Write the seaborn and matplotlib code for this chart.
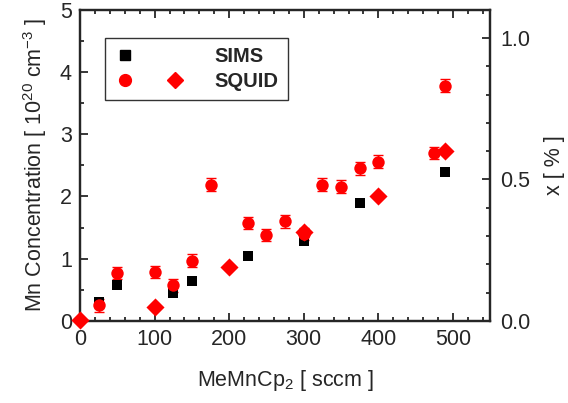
import matplotlib
matplotlib.use("Agg")
import matplotlib.pyplot as plt
import seaborn as sns
import pandas as pd
from matplotlib.lines import Line2D
from matplotlib.legend_handler import HandlerTuple
from matplotlib.ticker import MultipleLocator

# ---- data ----
sims_x = [25, 50, 125, 150, 225, 300, 375, 490]
sims_y = [0.30, 0.58, 0.45, 0.64, 1.04, 1.28, 1.89, 2.39]

squid_x = [25, 50, 100, 125, 150, 175, 225, 250, 275, 300, 325, 350, 375, 400, 475, 490]
squid_y = [0.25, 0.77, 0.79, 0.57, 0.97, 2.19, 1.57, 1.38, 1.60, 1.40, 2.19, 2.16, 2.45, 2.56, 2.70, 3.78]
squid_err = [0.1] * len(squid_x)

squid_pct_x = [0, 100, 200, 300, 400, 490]
squid_pct_y = [0.005, 0.05, 0.19, 0.315, 0.44, 0.60]

sns.set_style("ticks")
plt.rcParams['font.family'] = ['Liberation Sans', 'DejaVu Sans']
plt.rcParams['mathtext.fontset'] = 'custom'
plt.rcParams['mathtext.rm'] = 'Liberation Sans'
plt.rcParams['mathtext.it'] = 'Liberation Sans'

FS = 15.5

fig = plt.figure(figsize=(5.68, 4.03), dpi=100)
ax = fig.add_axes([0.141, 0.2035, 0.722, 0.7725])

df_sims = pd.DataFrame({"x": sims_x, "y": sims_y})
df_squid = pd.DataFrame({"x": squid_x, "y": squid_y})

ax.errorbar(squid_x, squid_y, yerr=squid_err, fmt='none', ecolor='red',
            elinewidth=1.0, capsize=3.5, capthick=1.0, zorder=2)
sns.scatterplot(data=df_sims, x="x", y="y", ax=ax, marker='s', color='black',
                s=55, edgecolor='black', linewidth=0, zorder=3)
sns.scatterplot(data=df_squid, x="x", y="y", ax=ax, marker='o', color='red',
                s=80, edgecolor='red', linewidth=0, zorder=4)

ax.set_xlim(0, 550)
ax.set_ylim(0, 5)
ax.xaxis.set_major_locator(MultipleLocator(100))
ax.xaxis.set_minor_locator(MultipleLocator(20))
ax.yaxis.set_major_locator(MultipleLocator(1))
ax.yaxis.set_minor_locator(MultipleLocator(0.5))
ax.tick_params(which='both', direction='in', top=True, labelsize=FS, width=1.3, pad=6)
ax.tick_params(which='major', length=5.5)
ax.tick_params(which='minor', length=3)
ax.set_xlabel(r'MeMnCp$_2$ [ sccm ]', fontsize=FS, labelpad=13)
ax.set_ylabel(r'Mn Concentration [ 10$^{20}$ cm$^{-3}$ ]', fontsize=FS, labelpad=8)

ax2 = ax.twinx()
df_pct = pd.DataFrame({"x": squid_pct_x, "y": squid_pct_y})
sns.scatterplot(data=df_pct, x="x", y="y", ax=ax2, marker='D', color='red',
                s=85, edgecolor='red', linewidth=0, zorder=5, clip_on=False)
ax2.set_ylim(0, 1.1)
ax2.set_xlim(0, 550)
ax2.yaxis.set_major_locator(MultipleLocator(0.5))
ax2.yaxis.set_minor_locator(MultipleLocator(0.1))
ax2.yaxis.set_major_formatter(matplotlib.ticker.FormatStrFormatter('%.1f'))
ax2.tick_params(which='both', direction='in', labelsize=FS, width=1.3, pad=7)
ax2.tick_params(which='major', length=5.5)
ax2.tick_params(which='minor', length=3)
ax2.set_ylabel('x [ % ]', fontsize=FS, labelpad=10)
ax2.set_xlabel('')

for a in (ax, ax2):
    for sp in a.spines.values():
        sp.set_linewidth(1.6)
        sp.set_visible(True)

h_sims = (Line2D([], [], marker='s', color='black', ls='none', markersize=7),
          Line2D([], [], marker='s', color='none', ls='none', markersize=7))
h_squid = (Line2D([], [], marker='o', color='red', ls='none', markersize=8.5),
           Line2D([], [], marker='D', color='red', ls='none', markersize=8))
leg = ax.legend([h_sims, h_squid], ['SIMS', 'SQUID'],
                handler_map={tuple: HandlerTuple(ndivide=None, pad=1.4)},
                loc='upper left', bbox_to_anchor=(0.036, 0.942),
                frameon=True, fancybox=False, edgecolor='black',
                handlelength=3.6, handletextpad=1.4, borderpad=0.45,
                labelspacing=0.3, prop={'weight': 'bold', 'size': 14.5})
leg.get_frame().set_linewidth(1.0)

fig.savefig("out.png", dpi=100)
